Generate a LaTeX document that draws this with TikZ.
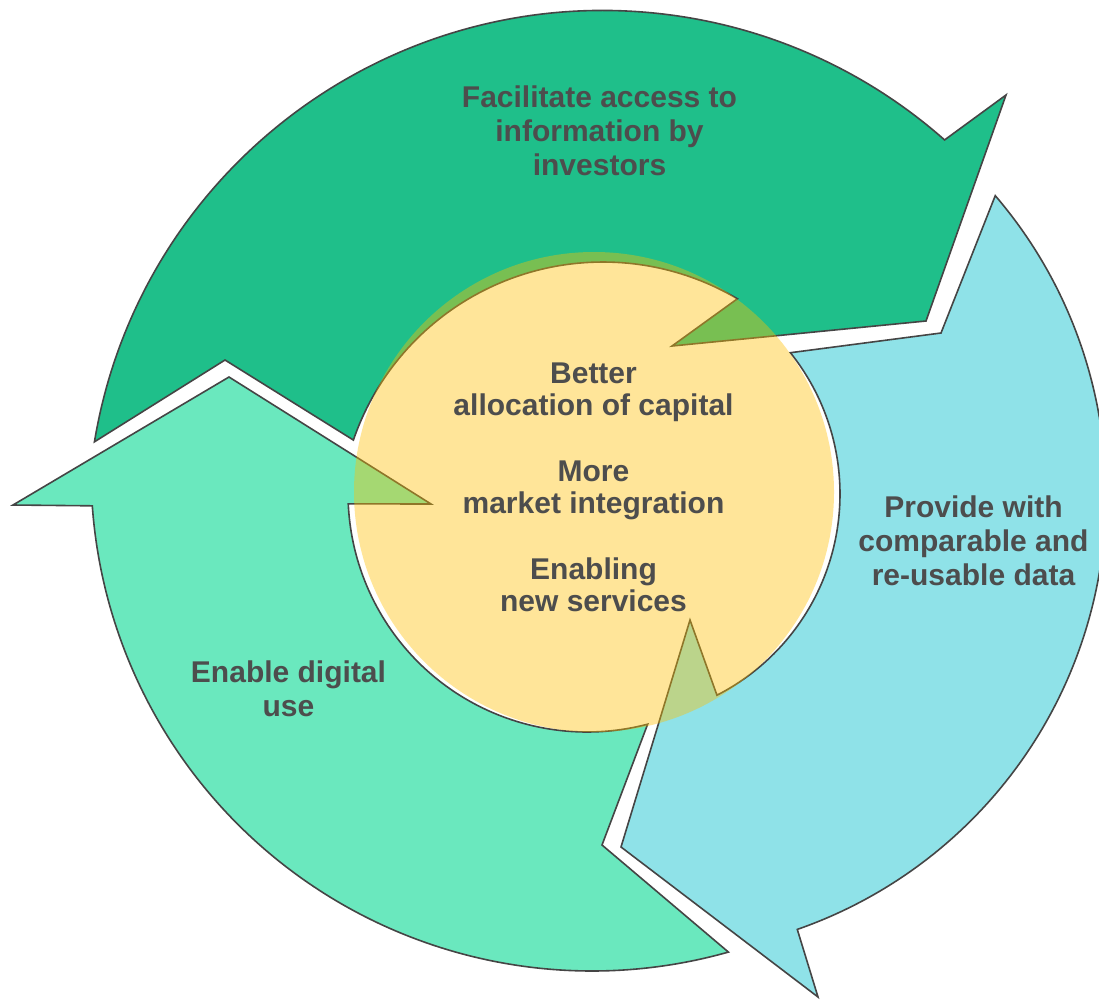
\documentclass[tikz,border=0pt]{standalone}
\usepackage{fontspec}
\setmainfont{Liberation Sans}
\usetikzlibrary{calc}
\definecolor{topgreen}{HTML}{1FBF8A}
\definecolor{leftgreen}{HTML}{6AE8BE}
\definecolor{rightcyan}{HTML}{8FE2E8}
\definecolor{hubgold}{HTML}{FFC000}
\definecolor{edgegray}{HTML}{454545}
\definecolor{labelgray}{HTML}{4D4D4D}
\begin{document}
\begin{tikzpicture}[x=1pt,y=1pt,yscale=-1,
  arrowshape/.style={draw=edgegray, line width=1.6pt, line join=miter},
  lbl/.style={anchor=base, inner sep=0pt, text=labelgray,
    font=\bfseries\fontsize{30}{34}\selectfont},
  hublbl/.style={anchor=base, inner sep=0pt, text=labelgray,
    font=\bfseries\fontsize{30}{32.7}\selectfont}]
\useasboundingbox (0,0) rectangle (1099,999);
\fill[white] (0,0) rectangle (1099,999);

% centres of the arcs
\coordinate (gC) at (603,526);
\coordinate (cO) at (646,495);
\coordinate (cI) at (614,494);
\coordinate (lO) at (592,470);
\coordinate (lI) at (587,493);

% arrow corner points
\coordinate (gOB) at (1006,95);
\coordinate (gTip) at (926,321);
\coordinate (gIB) at (672,346);
\coordinate (gNotch) at (225,360);
\coordinate (cOB) at (818,997);
\coordinate (cTip) at (621,847);
\coordinate (cIB) at (690,620);
\coordinate (cNotch) at (941,333);
\coordinate (lOB) at (13,505);
\coordinate (lTip) at (229,377);
\coordinate (lIB) at (431,504);
\coordinate (lNotch) at (602,845);

% top arrow
\filldraw[arrowshape, fill=topgreen]
  ($(gC)+(-170.6:515.5)$) arc[start angle=-170.6, end angle=-48.5, radius=515.5]
  -- (gOB) -- (gTip) -- (gIB)
  -- ($(gC)+(-59.4:264)$) arc[start angle=-59.4, end angle=-161, radius=264]
  -- (gNotch) -- cycle;

% right arrow
\filldraw[arrowshape, fill=rightcyan]
  ($(cO)+(-40.6:460)$) arc[start angle=-40.6, end angle=70.8, radius=460]
  -- (cOB) -- (cTip) -- (cIB)
  -- ($(cI)+(62.9:226)$) arc[start angle=62.9, end angle=-38.7, radius=226]
  -- (cNotch) -- cycle;

% left arrow
\filldraw[arrowshape, fill=leftgreen]
  ($(lO)+(74.2:501)$) arc[start angle=74.2, end angle=175.9, radius=501]
  -- (lOB) -- (lTip) -- (lIB)
  -- ($(lI)+(177.4:239)$) arc[start angle=177.4, end angle=75.3, radius=239]
  -- (lNotch) -- cycle;

% centre disc
\fill[hubgold, fill opacity=0.4] (594,492) circle[radius=240];

% labels
\node[lbl] (topLabel) at (599.5,107)
  {\begin{tabular}[t]{@{}c@{}}Facilitate access to\\information by\\investors\end{tabular}};
\node[lbl] (rightLabel) at (973.5,517)
  {\begin{tabular}[t]{@{}c@{}}Provide with\\comparable and\\re-usable data\end{tabular}};
\node[lbl] (leftLabel) at (288.5,682)
  {\begin{tabular}[t]{@{}c@{}}Enable digital\\use\end{tabular}};
\node[hublbl] (hubLabel) at (593.5,383)
  {\begin{tabular}[t]{@{}c@{}}Better\\allocation of capital\\ \\More\\market integration\\ \\Enabling\\new services\end{tabular}};
\end{tikzpicture}
\end{document}
